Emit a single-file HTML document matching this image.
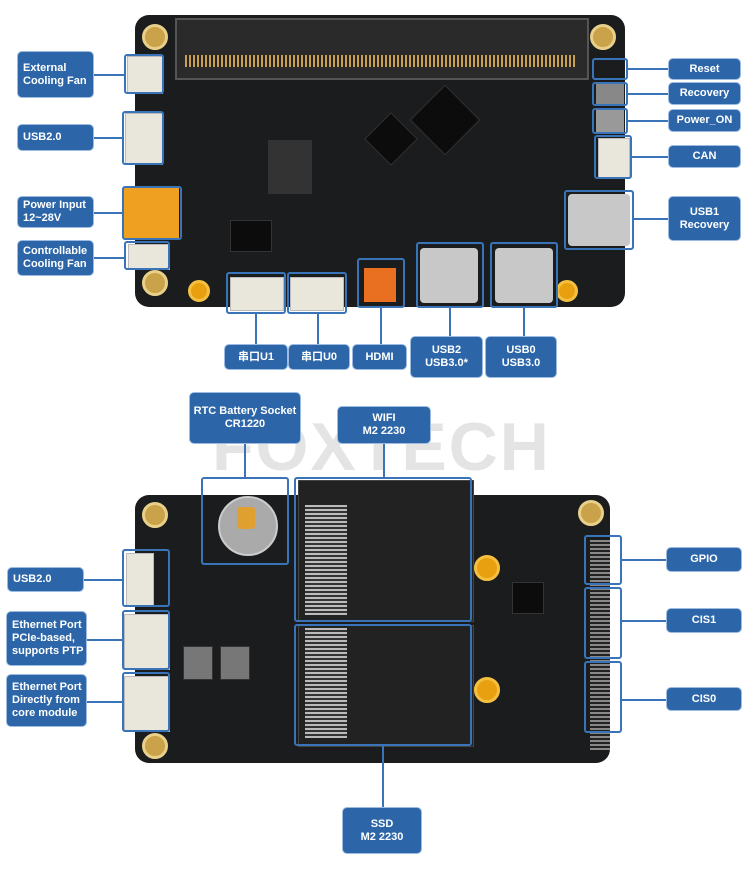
<!DOCTYPE html>
<html><head><meta charset="utf-8"><style>
body{margin:0;width:750px;height:870px;background:#fff;position:relative;overflow:hidden;font-family:"Liberation Sans","Noto Sans CJK SC",sans-serif}
.a{position:absolute}
.l{position:absolute;background:#2c66a8;color:#fff;font-weight:bold;font-size:11px;line-height:13px;border-radius:4px;box-shadow:0 0 0 1px #9dbbe0;display:flex;align-items:center;justify-content:center;text-align:center}
.ll{justify-content:flex-start;text-align:left;padding-left:5px;box-sizing:border-box}
.o{position:absolute;border:2px solid #3a74b8;border-radius:3px;box-sizing:border-box}
.h{position:absolute;height:2px;background:#3a74b8}
.v{position:absolute;width:2px;background:#3a74b8}
.hole{position:absolute;width:22px;height:22px;border-radius:50%;background:#c9a24a;border:3px solid #e8d08a;box-sizing:border-box}
.chip{position:absolute;background:#0c0c0c;border:1px solid #333}
.wc{position:absolute;background:#e9e6dc;border:1px solid #bbb}
</style></head><body>
<!-- top board -->
<div class="a" style="left:135px;top:15px;width:490px;height:292px;background:#1b1c1e;border-radius:14px"></div>
<div class="a" style="left:175px;top:18px;width:410px;height:58px;background:#2a2a2a;border:2px solid #555"></div>
<div class="a" style="left:185px;top:55px;width:390px;height:12px;background:repeating-linear-gradient(90deg,#c8a050 0 2px,#222 2px 4px)"></div>
<div class="hole" style="left:142px;top:24px;width:26px;height:26px"></div>
<div class="hole" style="left:590px;top:24px;width:26px;height:26px"></div>
<div class="hole" style="left:142px;top:270px;width:26px;height:26px"></div>
<div class="hole" style="left:188px;top:280px;background:#e8a010;border-color:#f5c040"></div>
<div class="hole" style="left:556px;top:280px;background:#e8a010;border-color:#f5c040"></div>
<div class="chip" style="left:268px;top:140px;width:42px;height:52px;background:#333"></div>
<div class="chip" style="left:420px;top:95px;width:48px;height:48px;transform:rotate(45deg)"></div>
<div class="chip" style="left:372px;top:120px;width:36px;height:36px;transform:rotate(45deg)"></div>
<div class="chip" style="left:230px;top:220px;width:40px;height:30px"></div>
<div class="a" style="left:124px;top:188px;width:55px;height:50px;background:#f0a020"></div>
<div class="wc" style="left:127px;top:56px;width:34px;height:36px"></div>
<div class="wc" style="left:125px;top:113px;width:36px;height:50px"></div>
<div class="wc" style="left:128px;top:244px;width:40px;height:24px"></div>
<div class="wc" style="left:230px;top:277px;width:52px;height:32px"></div>
<div class="wc" style="left:290px;top:277px;width:52px;height:32px"></div>
<div class="a" style="left:364px;top:268px;width:32px;height:34px;background:#e87020"></div>
<div class="a" style="left:420px;top:248px;width:58px;height:55px;background:#c8c8c8;border-radius:4px"></div>
<div class="a" style="left:495px;top:248px;width:58px;height:55px;background:#c8c8c8;border-radius:4px"></div>
<div class="a" style="left:568px;top:194px;width:62px;height:52px;background:#c8c8c8;border-radius:4px"></div>
<div class="wc" style="left:598px;top:138px;width:30px;height:38px"></div>
<div class="a" style="left:596px;top:84px;width:28px;height:22px;background:#888"></div>
<div class="a" style="left:596px;top:110px;width:28px;height:22px;background:#999"></div>
<!-- top outlines -->
<div class="o" style="left:124px;top:54px;width:40px;height:40px"></div>
<div class="o" style="left:122px;top:111px;width:42px;height:54px"></div>
<div class="o" style="left:122px;top:186px;width:60px;height:54px"></div>
<div class="o" style="left:124px;top:241px;width:46px;height:29px"></div>
<div class="o" style="left:226px;top:272px;width:60px;height:42px"></div>
<div class="o" style="left:287px;top:272px;width:60px;height:42px"></div>
<div class="o" style="left:357px;top:258px;width:48px;height:50px"></div>
<div class="o" style="left:416px;top:242px;width:68px;height:66px"></div>
<div class="o" style="left:490px;top:242px;width:68px;height:66px"></div>
<div class="o" style="left:564px;top:190px;width:70px;height:60px"></div>
<div class="o" style="left:592px;top:58px;width:36px;height:22px"></div>
<div class="o" style="left:592px;top:82px;width:36px;height:24px"></div>
<div class="o" style="left:592px;top:108px;width:36px;height:26px"></div>
<div class="o" style="left:594px;top:135px;width:38px;height:44px"></div>
<div class="h" style="left:93px;top:74px;width:31px"></div>
<div class="h" style="left:93px;top:137px;width:29px"></div>
<div class="h" style="left:93px;top:212px;width:29px"></div>
<div class="h" style="left:93px;top:257px;width:31px"></div>
<div class="h" style="left:628px;top:68px;width:41px"></div>
<div class="h" style="left:628px;top:93px;width:41px"></div>
<div class="h" style="left:628px;top:120px;width:41px"></div>
<div class="h" style="left:632px;top:156px;width:37px"></div>
<div class="h" style="left:634px;top:218px;width:35px"></div>
<div class="v" style="left:255px;top:314px;height:31px"></div>
<div class="v" style="left:317px;top:314px;height:31px"></div>
<div class="v" style="left:380px;top:308px;height:37px"></div>
<div class="v" style="left:449px;top:308px;height:29px"></div>
<div class="v" style="left:523px;top:308px;height:29px"></div>
<!-- top labels -->
<div class="l ll" style="left:18px;top:52px;width:75px;height:45px">External<br>Cooling Fan</div>
<div class="l ll" style="left:18px;top:125px;width:75px;height:25px">USB2.0</div>
<div class="l ll" style="left:18px;top:197px;width:75px;height:30px">Power Input<br>12~28V</div>
<div class="l ll" style="left:18px;top:241px;width:75px;height:34px">Controllable<br>Cooling Fan</div>
<div class="l" style="left:669px;top:59px;width:71px;height:20px">Reset</div>
<div class="l" style="left:669px;top:83px;width:71px;height:21px">Recovery</div>
<div class="l" style="left:669px;top:110px;width:71px;height:21px">Power_ON</div>
<div class="l" style="left:669px;top:146px;width:71px;height:21px">CAN</div>
<div class="l" style="left:669px;top:197px;width:71px;height:43px">USB1<br>Recovery</div>
<div class="l" style="left:225px;top:345px;width:62px;height:24px">串口U1</div>
<div class="l" style="left:289px;top:345px;width:60px;height:24px">串口U0</div>
<div class="l" style="left:353px;top:345px;width:53px;height:24px">HDMI</div>
<div class="l" style="left:411px;top:337px;width:71px;height:40px">USB2<br>USB3.0*</div>
<div class="l" style="left:486px;top:337px;width:70px;height:40px">USB0<br>USB3.0</div>
<!-- watermark -->
<div class="a" style="left:212px;top:408px;font-size:68px;font-weight:bold;color:#e4e4e4;letter-spacing:2px">FOXTECH</div>
<!-- bottom board -->
<div class="a" style="left:135px;top:495px;width:475px;height:268px;background:#1b1c1e;border-radius:14px"></div>
<div class="a" style="left:298px;top:480px;width:174px;height:140px;background:#222;border:1px solid #444"></div>
<div class="a" style="left:298px;top:625px;width:174px;height:120px;background:#222;border:1px solid #444"></div>
<div class="a" style="left:305px;top:505px;width:42px;height:110px;background:repeating-linear-gradient(0deg,#bbb 0 2px,#333 2px 4px)"></div>
<div class="a" style="left:305px;top:628px;width:42px;height:110px;background:repeating-linear-gradient(0deg,#bbb 0 2px,#333 2px 4px)"></div>
<div class="a" style="left:590px;top:540px;width:20px;height:210px;background:repeating-linear-gradient(0deg,#888 0 2px,#222 2px 4px)"></div>
<div class="hole" style="left:142px;top:502px;width:26px;height:26px"></div>
<div class="hole" style="left:578px;top:500px;width:26px;height:26px"></div>
<div class="hole" style="left:142px;top:733px;width:26px;height:26px"></div>
<div class="hole" style="left:474px;top:555px;background:#e8a010;border-color:#f5c040;width:26px;height:26px"></div>
<div class="hole" style="left:474px;top:677px;background:#e8a010;border-color:#f5c040;width:26px;height:26px"></div>
<div class="a" style="left:218px;top:496px;width:56px;height:56px;border-radius:50%;background:#aaa;border:2px solid #ccc"></div>
<div class="a" style="left:237px;top:507px;width:18px;height:22px;background:#e0a030;border-radius:3px"></div>
<div class="chip" style="left:183px;top:646px;width:28px;height:32px;background:#777"></div>
<div class="chip" style="left:220px;top:646px;width:28px;height:32px;background:#777"></div>
<div class="chip" style="left:512px;top:582px;width:30px;height:30px"></div>
<div class="wc" style="left:126px;top:553px;width:26px;height:52px"></div>
<div class="wc" style="left:124px;top:614px;width:44px;height:54px"></div>
<div class="wc" style="left:124px;top:676px;width:44px;height:54px"></div>
<div class="o" style="left:201px;top:477px;width:88px;height:88px"></div>
<div class="o" style="left:294px;top:477px;width:178px;height:145px"></div>
<div class="o" style="left:294px;top:624px;width:178px;height:122px"></div>
<div class="o" style="left:122px;top:549px;width:48px;height:58px"></div>
<div class="o" style="left:122px;top:610px;width:48px;height:60px"></div>
<div class="o" style="left:122px;top:672px;width:48px;height:60px"></div>
<div class="o" style="left:584px;top:535px;width:38px;height:50px"></div>
<div class="o" style="left:584px;top:587px;width:38px;height:72px"></div>
<div class="o" style="left:584px;top:661px;width:38px;height:72px"></div>
<div class="v" style="left:244px;top:443px;height:34px"></div>
<div class="v" style="left:383px;top:443px;height:34px"></div>
<div class="v" style="left:382px;top:746px;height:62px"></div>
<div class="h" style="left:83px;top:579px;width:39px"></div>
<div class="h" style="left:86px;top:639px;width:36px"></div>
<div class="h" style="left:86px;top:701px;width:36px"></div>
<div class="h" style="left:622px;top:559px;width:45px"></div>
<div class="h" style="left:622px;top:620px;width:45px"></div>
<div class="h" style="left:622px;top:699px;width:45px"></div>
<div class="l" style="left:190px;top:393px;width:110px;height:50px">RTC Battery Socket<br>CR1220</div>
<div class="l" style="left:338px;top:407px;width:92px;height:36px">WIFI<br>M2 2230</div>
<div class="l ll" style="left:8px;top:568px;width:75px;height:23px">USB2.0</div>
<div class="l ll" style="left:7px;top:612px;width:79px;height:53px">Ethernet Port<br>PCIe-based,<br>supports PTP</div>
<div class="l ll" style="left:7px;top:675px;width:79px;height:51px">Ethernet Port<br>Directly from<br>core module</div>
<div class="l" style="left:667px;top:548px;width:74px;height:23px">GPIO</div>
<div class="l" style="left:667px;top:609px;width:74px;height:23px">CIS1</div>
<div class="l" style="left:667px;top:688px;width:74px;height:22px">CIS0</div>
<div class="l" style="left:343px;top:808px;width:78px;height:45px">SSD<br>M2 2230</div>
</body></html>
